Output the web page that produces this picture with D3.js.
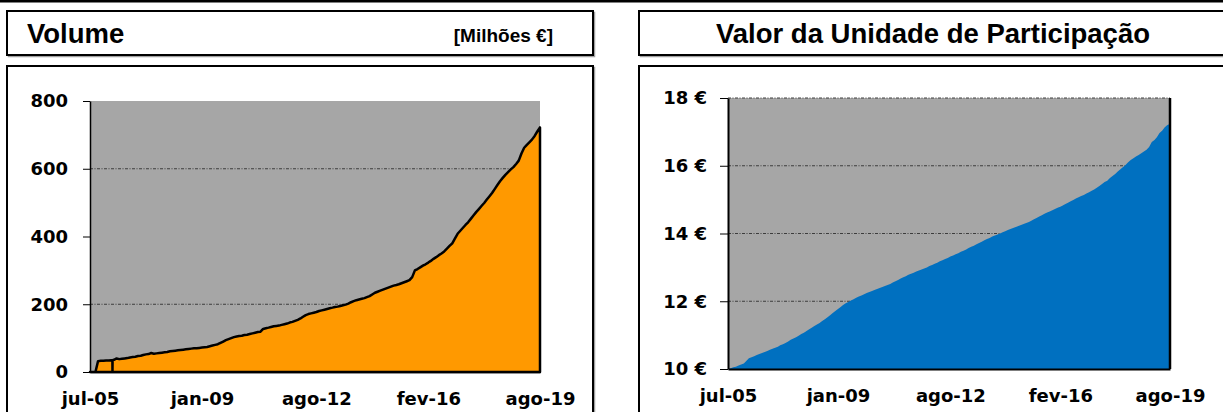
<!DOCTYPE html>
<html>
<head>
<meta charset="utf-8">
<script src="https://cdn.jsdelivr.net/npm/d3@7"></script>
<style>
  body { margin: 0; background: #fff; }
  svg { display: block; }
</style>
</head>
<body>
<svg id="svg"></svg>
<script>
// monthly observations, jul-05 .. ago-19
const months = d3.timeMonth.range(new Date(2005, 6, 1), new Date(2019, 8, 1));

// Volume [Milhões €]
const volumeValues = [
  0, 0, 0, 32, 33, 33, 34, 34, 35, 36,
  40, 38, 39, 40, 41, 43, 44, 45, 47, 48,
  50, 52, 53, 56, 54, 55, 56, 57, 58, 59,
  61, 62, 63, 64, 65, 66, 67, 68, 69, 70,
  70, 71, 72, 73, 74, 76, 78, 80, 82, 86,
  90, 94, 97, 100, 103, 105, 106, 107, 109, 110,
  112, 114, 116, 118, 119, 127, 129, 131, 133, 135,
  136, 137, 139, 141, 143, 146, 148, 151, 154, 158,
  163, 168, 171, 173, 175, 177, 180, 182, 184, 186,
  188, 190, 192, 193, 195, 197, 199, 202, 206, 209,
  212, 214, 216, 218, 221, 224, 229, 234, 237, 240,
  243, 246, 249, 252, 255, 257, 259, 262, 265, 268,
  271, 280, 300, 304, 309, 314, 318, 323, 328, 334,
  339, 345, 350, 356, 364, 372, 380, 394, 408, 417,
  425, 434, 442, 452, 462, 472, 481, 490, 499, 509,
  519, 529, 540, 552, 563, 573, 582, 590, 598, 605,
  614, 624, 645, 662, 670, 678, 686, 697, 710, 722
];

// a one-day drop to zero in march 2006
const volumeDipDates = [new Date(2006, 2, 14), new Date(2006, 2, 15), new Date(2006, 2, 16)];
const volumeDipValues = [35, 0, 35];

// Valor da Unidade de Participação [€]
const unitValues = [
  10.00, 10.02, 10.05, 10.07, 10.10, 10.13, 10.16, 10.24, 10.32, 10.35,
  10.38, 10.41, 10.44, 10.47, 10.50, 10.53, 10.57, 10.60, 10.63, 10.66,
  10.70, 10.73, 10.77, 10.81, 10.86, 10.90, 10.94, 10.98, 11.03, 11.07,
  11.12, 11.17, 11.22, 11.27, 11.31, 11.36, 11.42, 11.47, 11.53, 11.59,
  11.65, 11.71, 11.77, 11.83, 11.89, 11.94, 11.98, 12.02, 12.06, 12.10,
  12.14, 12.17, 12.21, 12.24, 12.27, 12.30, 12.33, 12.36, 12.39, 12.42,
  12.45, 12.48, 12.51, 12.55, 12.59, 12.63, 12.67, 12.71, 12.74, 12.78,
  12.81, 12.84, 12.88, 12.91, 12.94, 12.97, 13.00, 13.04, 13.07, 13.11,
  13.14, 13.18, 13.21, 13.25, 13.28, 13.32, 13.35, 13.39, 13.42, 13.46,
  13.49, 13.53, 13.57, 13.61, 13.64, 13.68, 13.72, 13.76, 13.80, 13.84,
  13.87, 13.91, 13.94, 13.97, 14.00, 14.04, 14.07, 14.10, 14.13, 14.16,
  14.19, 14.22, 14.25, 14.28, 14.31, 14.34, 14.38, 14.42, 14.46, 14.50,
  14.54, 14.58, 14.62, 14.65, 14.69, 14.72, 14.76, 14.79, 14.83, 14.87,
  14.91, 14.95, 14.99, 15.03, 15.07, 15.11, 15.14, 15.18, 15.22, 15.26,
  15.30, 15.35, 15.40, 15.46, 15.52, 15.56, 15.64, 15.70, 15.76, 15.83,
  15.90, 15.96, 16.02, 16.10, 16.17, 16.22, 16.27, 16.32, 16.37, 16.42,
  16.47, 16.55, 16.70, 16.76, 16.84, 16.97, 17.03, 17.14, 17.20, 17.23
];

const xTickDates = [
  new Date(2005, 6, 1), new Date(2009, 0, 1), new Date(2012, 7, 1),
  new Date(2016, 1, 1), new Date(2019, 7, 1)
];
const volumeTicks = [0, 200, 400, 600, 800];
const volumeGrid = [200, 600];
const unitTicks = [10, 12, 14, 16, 18];
const unitGrid = [12, 14, 16, 18];

const w = 1223;
const h = 412;
const tickFont = "'DejaVu Sans', Verdana, sans-serif";
const titleFont = "'Liberation Sans', Arial, sans-serif";

const pt = d3.timeFormatLocale({
  dateTime: "%d/%m/%Y %H:%M:%S", date: "%d/%m/%Y", time: "%H:%M:%S",
  periods: ["AM", "PM"],
  days: ["domingo", "segunda", "terça", "quarta", "quinta", "sexta", "sábado"],
  shortDays: ["dom", "seg", "ter", "qua", "qui", "sex", "sáb"],
  months: ["janeiro", "fevereiro", "março", "abril", "maio", "junho", "julho",
           "agosto", "setembro", "outubro", "novembro", "dezembro"],
  shortMonths: ["jan", "fev", "mar", "abr", "mai", "jun", "jul", "ago", "set", "out", "nov", "dez"]
});
const fmtMonth = pt.format("%b-%y");

let svg = d3.select("#svg")
  .attr("width", w)
  .attr("height", h)
  .attr("viewBox", "0 0 " + w + " " + h);

// thick rule across the top
svg.append("rect")
  .attr("x", 0).attr("y", 0)
  .attr("width", w).attr("height", 2.5)
  .attr("fill", "#000");

function drawBox(x, y, bw, bh) {
  // light shadow then the black frame
  svg.append("rect")
    .attr("x", x + 1.5).attr("y", y + 1.5)
    .attr("width", bw).attr("height", bh)
    .attr("fill", "none")
    .attr("stroke", "#a0a0a0")
    .attr("stroke-width", 1.5);
  svg.append("rect")
    .attr("x", x).attr("y", y)
    .attr("width", bw).attr("height", bh)
    .attr("fill", "#fff")
    .attr("stroke", "#000")
    .attr("stroke-width", 2);
}

function drawChart(o) {
  const x = d3.scaleTime()
    .domain([months[0], months[months.length - 1]])
    .range([o.left, o.right]);
  const y = d3.scaleLinear()
    .domain(o.yDomain)
    .range([o.bottom, o.top]);

  // plot area
  svg.append("rect")
    .attr("x", o.left).attr("y", o.top)
    .attr("width", o.right - o.left).attr("height", o.bottom - o.top)
    .attr("fill", "#a6a6a6");

  // gridlines (behind the series)
  svg.append("g")
    .selectAll("line")
    .data(o.grid)
    .enter()
    .append("line")
    .attr("x1", o.left).attr("x2", o.right)
    .attr("y1", d => y(d)).attr("y2", d => y(d))
    .attr("stroke", "#3c3c3c")
    .attr("stroke-width", 1)
    .attr("stroke-dasharray", "3,1.5,1,1.5");

  let data = months.map((m, i) => ({ date: m, value: o.values[i] }));
  if (o.extraDates) {
    o.extraDates.forEach((d, i) => data.push({ date: d, value: o.extraValues[i] }));
    data.sort((a, b) => a.date - b.date);
  }
  const area = d3.area()
    .x(d => x(d.date))
    .y0(y(o.yDomain[0]))
    .y1(d => y(d.value));

  svg.append("path")
    .datum(data)
    .attr("d", area)
    .attr("fill", o.color)
    .attr("stroke", o.outline ? "#000" : "none")
    .attr("stroke-width", 2.5)
    .attr("stroke-linejoin", "round");

  // y axis
  const yAxis = d3.axisLeft(y)
    .tickValues(o.ticks)
    .tickFormat(o.tickFormat)
    .tickSize(o.tickSize)
    .tickSizeOuter(0)
    .tickPadding(o.tickPadding);
  const gy = svg.append("g")
    .attr("transform", "translate(" + o.left + ",0)")
    .call(yAxis);
  gy.select(".domain").attr("stroke", "#000").attr("stroke-width", o.axisWidth);
  gy.selectAll(".tick line").attr("stroke", "#000").attr("stroke-width", 1);
  gy.selectAll("text")
    .attr("fill", "#000")
    .style("font-family", tickFont)
    .style("font-weight", "bold")
    .style("font-size", "18px");

  // x axis
  const xAxis = d3.axisBottom(x)
    .tickValues(xTickDates)
    .tickFormat(fmtMonth)
    .tickSize(0)
    .tickPadding(20);
  const gx = svg.append("g")
    .attr("transform", "translate(0," + o.bottom + ")")
    .call(xAxis);
  gx.select(".domain").attr("stroke", "#000").attr("stroke-width", o.axisWidth);
  gx.selectAll("text")
    .attr("fill", "#000")
    .style("font-family", tickFont)
    .style("font-weight", "bold")
    .style("font-size", "18px");

  if (o.rightEdge) {
    svg.append("line")
      .attr("x1", o.right).attr("x2", o.right)
      .attr("y1", o.top).attr("y2", o.bottom)
      .attr("stroke", "#000")
      .attr("stroke-width", 2.5);
  }
}

// ---- left panel: Volume
drawBox(7, 11, 586, 44);
drawBox(7, 66, 586, 360);

svg.append("text")
  .attr("x", 27).attr("y", 43)
  .style("font-family", titleFont)
  .style("font-weight", "bold")
  .style("font-size", "27.5px")
  .text("Volume");

svg.append("text")
  .attr("x", 553).attr("y", 42)
  .attr("text-anchor", "end")
  .style("font-family", titleFont)
  .style("font-weight", "bold")
  .style("font-size", "19px")
  .text("[Milhões €]");

drawChart({
  left: 90, right: 540, top: 101, bottom: 372,
  yDomain: [0, 800],
  values: volumeValues,
  extraDates: volumeDipDates,
  extraValues: volumeDipValues,
  ticks: volumeTicks,
  grid: volumeGrid,
  tickFormat: d => d,
  tickSize: 7, tickPadding: 15,
  color: "#ff9900",
  outline: true,
  axisWidth: 1.5,
  rightEdge: false
});

// ---- right panel: Valor da UP
drawBox(639, 11, 586, 44);
drawBox(639, 66, 586, 360);

svg.append("text")
  .attr("x", 933).attr("y", 43)
  .attr("text-anchor", "middle")
  .style("font-family", titleFont)
  .style("font-weight", "bold")
  .style("font-size", "27.5px")
  .text("Valor da Unidade de Participação");

drawChart({
  left: 728, right: 1170, top: 98, bottom: 369,
  yDomain: [10, 18],
  values: unitValues,
  ticks: unitTicks,
  grid: unitGrid,
  tickFormat: d => d + " €",
  tickSize: 8, tickPadding: 13,
  color: "#0070c0",
  outline: false,
  axisWidth: 2,
  rightEdge: true
});
</script>
</body>
</html>
